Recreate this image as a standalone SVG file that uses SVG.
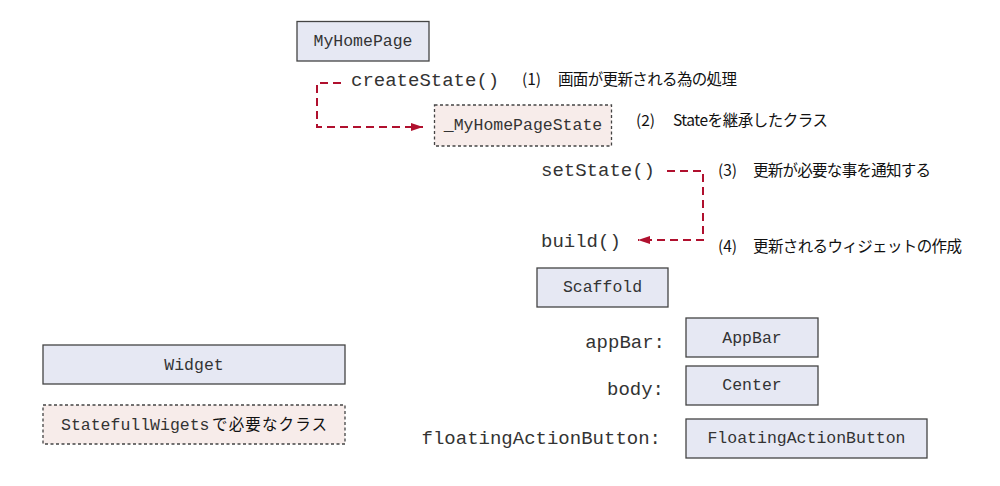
<svg xmlns="http://www.w3.org/2000/svg" width="1000" height="486" viewBox="0 0 1000 486">
<defs>
<style>
.box{fill:#e6e8f3;stroke:#444;stroke-width:1.3}
.dbox{fill:#f7ecea;stroke:#444;stroke-width:1.3;stroke-dasharray:3 2.5}
.code{font-family:"Liberation Mono","DejaVu Sans Mono",monospace;fill:#333}
.bl{font-size:16.5px;text-anchor:middle}
.lbl{font-size:19px}
.jp{font-family:"Noto Sans CJK JP","Noto Sans",sans-serif;font-size:15.5px;fill:#111}
.conn{fill:none;stroke:#b0102e;stroke-width:2;stroke-dasharray:8 5}
</style>
<marker id="arr" markerWidth="12" markerHeight="10" refX="12" refY="5" orient="auto" markerUnits="userSpaceOnUse">
<path d="M0,1 L12,5 L0,9 Z" fill="#b0102e"/>
</marker>
</defs>
<rect width="1000" height="486" fill="#fff"/>

<g id="connectors">
<path class="conn" d="M341 83 H317 V127 H423" marker-end="url(#arr)"/>
<path class="conn" d="M667 171 H703 V240 H638" marker-end="url(#arr)"/>
</g>

<g id="myhomepage">
<rect class="box" x="297" y="21.5" width="132" height="39.5"/>
<text class="code bl" x="363" y="46">MyHomePage</text>
</g>

<g id="createstate">
<text class="code lbl" x="351" y="86">createState()</text>
</g>

<g id="note1">
<text class="jp" y="85"><tspan x="522">(1)</tspan><tspan x="558" textLength="179">画面が更新される為の処理</tspan></text>
</g>

<g id="myhomepagestate">
<rect class="dbox" x="434.5" y="105" width="177" height="41"/>
<text class="code bl" x="523" y="130">_MyHomePageState</text>
</g>

<g id="note2">
<text class="jp" y="126"><tspan x="636">(2)</tspan><tspan x="673" textLength="155">Stateを継承したクラス</tspan></text>
</g>

<g id="setstate">
<text class="code lbl" x="541" y="176">setState()</text>
</g>

<g id="note3">
<text class="jp" y="176"><tspan x="718">(3)</tspan><tspan x="753" textLength="178">更新が必要な事を通知する</tspan></text>
</g>

<g id="build">
<text class="code lbl" x="541" y="247">build()</text>
</g>

<g id="note4">
<text class="jp" y="252"><tspan x="718">(4)</tspan><tspan x="753" textLength="209">更新されるウィジェットの作成</tspan></text>
</g>

<g id="scaffold">
<rect class="box" x="537" y="268" width="131" height="39"/>
<text class="code bl" x="602.5" y="292">Scaffold</text>
</g>

<g id="appbar-label">
<text class="code lbl" x="665" y="348" text-anchor="end">appBar:</text>
</g>
<g id="appbar">
<rect class="box" x="686" y="318" width="132" height="39"/>
<text class="code bl" x="752" y="343">AppBar</text>
</g>

<g id="body-label">
<text class="code lbl" x="664" y="395" text-anchor="end">body:</text>
</g>
<g id="center">
<rect class="box" x="686" y="366" width="132" height="39"/>
<text class="code bl" x="752" y="390">Center</text>
</g>

<g id="fab-label">
<text class="code lbl" x="661" y="444" text-anchor="end">floatingActionButton:</text>
</g>
<g id="fab">
<rect class="box" x="686" y="419" width="241" height="39"/>
<text class="code bl" x="806.5" y="443">FloatingActionButton</text>
</g>

<g id="widget">
<rect class="box" x="43" y="345" width="302" height="39"/>
<text class="code bl" x="194" y="370">Widget</text>
</g>

<g id="statefull">
<rect class="dbox" x="43" y="405" width="302" height="39"/>
<text y="430" x="61"><tspan class="code" font-size="16.5px">StatefullWigets</tspan><tspan class="jp" font-size="16.5px" x="212" textLength="115">で必要なクラス</tspan></text>
</g>
</svg>
